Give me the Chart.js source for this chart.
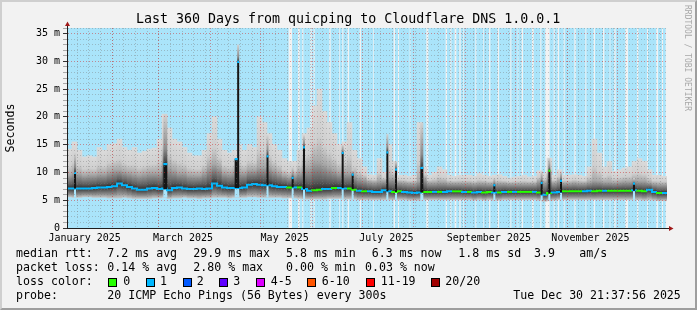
<!DOCTYPE html>
<html>
<head>
<meta charset="utf-8">
<title>Last 360 Days from quicping to Cloudflare DNS 1.0.0.1</title>
<script src="https://cdn.jsdelivr.net/npm/chart.js@4.4.1/dist/chart.umd.min.js"></script>
<style>
html,body{margin:0;padding:0;background:#f2f2f2;}
#wrap{position:relative;width:697px;height:310px;overflow:hidden;background:#f2f2f2;}
#c{position:absolute;left:0;top:0;}
#frame{position:absolute;left:0;top:0;width:697px;height:310px;box-sizing:border-box;border-top:2px solid #cfcfcf;border-left:2px solid #cfcfcf;border-right:2px solid #9e9e9e;border-bottom:2px solid #9e9e9e;pointer-events:none;}
.t{position:absolute;font-family:'DejaVu Sans Mono',monospace;font-size:11.6px;line-height:14px;white-space:pre;color:#000;}
.box{position:absolute;width:9px;height:9px;border:1px solid #000;box-sizing:border-box;}
.rrd{position:absolute;left:683px;top:5px;width:9px;writing-mode:vertical-rl;font-family:'DejaVu Sans Mono',monospace;font-size:8px;line-height:9px;color:#a8a8a8;white-space:pre;}
#title{position:absolute;left:136px;top:11.4px;font-family:'DejaVu Sans Mono',monospace;font-size:13.3px;line-height:16px;white-space:pre;color:#000;}
</style>
</head>
<body>
<div id="wrap">
  <canvas id="c" width="697" height="310"></canvas>
  <div id="title">Last 360 Days from quicping to Cloudflare DNS 1.0.0.1</div>
  <div id="legend"></div>
  <div class="rrd">RRDTOOL / TOBI OETIKER</div>
  <div id="frame"></div>
</div>
<script>
// ---------------- data (days counted from 2025-01-01 00:00) ----------------
const startDay = 3.9, endDay = 363.9, binDays = 3;

const medianMs = [
7.1,7.1,7.1,7.1,7.1,7.2,7.3,7.3,7.4,7.5,
8.0,7.7,7.4,7.1,6.9,6.9,7.1,7.2,7.0,7.1,
6.8,7.2,7.3,7.1,7.0,7.0,7.1,7.0,7.1,8.0,
7.6,7.3,7.2,7.2,7.2,7.3,7.8,7.9,7.8,7.7,
7.7,7.5,7.4,7.4,7.3,7.3,7.3,7.0,6.7,6.8,
6.9,7.0,7.0,7.2,7.2,7.1,7.1,6.9,6.7,6.6,
6.6,6.5,6.5,6.8,6.6,6.5,6.6,6.5,6.4,6.3,
6.4,6.5,6.5,6.5,6.5,6.5,6.6,6.6,6.6,6.5,
6.5,6.4,6.5,6.4,6.5,6.4,6.4,6.5,6.5,6.5,
6.5,6.5,6.5,6.5,6.4,6.0,6.3,6.4,6.5,6.6,
6.6,6.6,6.6,6.6,6.7,6.6,6.7,6.7,6.7,6.7,
6.7,6.7,6.7,6.8,6.7,6.6,6.9,6.5,6.3,6.3];

const lossIdx = [
1,1,1,1,1,1,1,1,1,1, 1,1,1,1,1,1,1,1,1,1,
1,1,1,1,1,1,1,1,1,1, 1,1,1,1,1,1,1,1,1,1,
1,1,1,1,0,1,0,1,1,0, 0,1,1,0,1,1,0,0,1,0,
1,1,1,1,1,0,0,1,1,1, 1,0,0,1,0,1,1,0,0,1,
0,1,1,0,0,1,0,1,0,1, 0,0,0,1,0,1,0,1,1,0,
0,0,0,1,1,0,0,1,0,0, 0,0,0,1,0,0,1,1,0,1];

const smokeLow = [
5.6,5.5,5.5,5.6,5.6,5.5,5.5,5.5,5.4,5.4,
5.4,5.5,5.4,5.3,5.3,5.3,5.3,5.4,5.4,5.5,
5.3,5.4,5.4,5.5,5.4,5.4,5.3,5.4,5.4,5.5,
5.5,5.5,5.4,5.5,5.5,5.5,5.6,5.6,5.5,5.5,
5.5,5.5,5.5,5.4,5.4,5.4,5.3,5.2,5.2,5.2,
5.2,5.2,5.3,5.3,5.3,5.2,5.2,5.2,5.1,5.1,
5.1,5.1,5.1,5.1,5.1,5.1,5.1,5.1,5.0,5.0,
5.0,5.1,5.1,5.1,5.1,5.1,5.1,5.1,5.1,5.1,
5.1,5.0,5.1,5.0,5.1,5.0,5.0,5.1,5.1,5.1,
5.1,5.1,5.1,5.1,5.0,4.8,4.9,5.0,5.1,5.1,
5.1,5.1,5.1,5.1,5.1,5.1,5.1,5.1,5.1,5.1,
5.1,5.1,5.1,5.1,5.1,5.0,5.1,5.0,4.9,4.9];

const smokeMid = [
9.5,10,9.8,9.5,9.6,9.6,9.8,9.8,10.2,10.5,
10.5,10.2,10,9.8,9.6,9.8,10,10,10,12,
11,10.5,10,10,9.6,9.5,9.5,10,11,11.5,
11,10,9.8,10,10,10,10.5,10.5,11,11,
11,10.5,10,9.5,9.2,9.5,10,11,11,12,
12,11.5,11,10.5,10,10,10,9.5,9,8.8,
8.4,8.3,8.5,8.5,9,9,8.3,8.2,8.1,8.1,
8.5,9,8.2,8.2,8.3,8.3,8.1,8.1,8.1,8.1,
8.1,8.0,8.1,8.1,8.0,8.0,8.1,8.1,8.0,8.0,
8.0,8.0,8.0,8.0,8.5,8.3,9.5,8.2,8.6,8.1,
8.1,8.2,8.1,8.1,8.3,8.6,8.5,8.3,8.3,8.2,
8.3,8.4,8.4,8.6,8.5,8.5,8.2,8.0,7.9,7.9];

const smokeHigh = [
14.2,15.5,14.0,12.8,13.0,12.8,14.5,14.0,15.0,15.2,
16,14.5,14,14.5,13.5,13.8,14.2,14.4,16,20.5,
18,16,15.5,14.5,13.5,13,13,14,17,20,
16,14,13.5,14,15,14,15,14.5,20,19,
17,15,14,12.5,12,12,14,17,18,22,
25,21,19,17,15,15.5,19,14,12.5,11,
9.6,9.5,12.5,10,15,12,9.5,9.5,9.3,9.5,
19,11,9.5,10,11,10.5,9.5,9.3,9.5,9.5,
9.5,9.3,9.8,9.5,9.3,9.5,9.6,9.3,9.0,9.2,
9.3,9.5,9.2,9.3,10.3,9.8,12.6,9.5,10.5,9.5,
9.5,9.6,9.5,9.3,11,16,13.5,11,12,10.2,
10.5,10.8,11,12,12.5,12,10.5,9.5,9.5,9.3];

// isolated latency spikes
const spikeDay   = [8.7, 62.9, 105.4, 106.6, 124.2, 139.3, 146.1, 169.3, 175.3, 196.1, 201.3, 216.8, 260.3, 288.7, 293.3, 300.3, 344.1];
const spikeBase  = [7.1, 7.0, 7.2, 7.2, 7.7, 7.3, 7.0, 7.2, 7.0, 6.6, 6.5, 6.4, 6.5, 6.0, 6.2, 6.4, 6.7];
const spikeTop   = [9.9, 11.5, 12.4, 29.9, 12.9, 9.0, 14.5, 13.5, 9.6, 13.6, 10.5, 10.8, 7.7, 8.1, 10.3, 8.5, 8.0];
const spikeHaze  = [13.5, 20.5, 12.4, 33.0, 16.7, 11.0, 16.7, 15.0, 10.5, 16.9, 12.0, 19.0, 9.0, 10.2, 12.6, 10.2, 9.0];
const spikeLoss  = [1,1,1,1,1,1,1,1,1,1,1,1,1,1,0,1,1];
const spikeWidth = [2,4,3,2,2,2,2,2,2,2,2,3,2,2,2,2,2];

// periods without the blue background
const whiteGaps = [[136.7,139.1],[142.3,143.7],[144.9,145.9],[149.7,150.9],[151.7,152.7],[161.1,162.3],[166.9,167.7],[168.9,169.9],[172.1,173.3],[179.3,180.5],[187.3,188.1],[199.7,200.9],[202.3,203.3],[209.3,210.1],[219.3,220.9],[230.9,232.1],[233.7,234.7],[236.3,237.7],[239.1,240.3],[241.3,242.1],[248.7,249.7],[253.3,254.1],[256.9,258.1],[262.1,263.3],[269.7,270.7],[274.1,274.9],[276.5,277.7],[282.7,284.1],[287.7,288.7],[290.7,293.7],[295.7,296.7],[298.1,299.3],[301.7,302.7],[308.1,309.3],[314.7,315.7],[319.7,320.9],[325.3,326.5],[329.3,330.1],[332.1,333.3],[338.7,340.7],[345.7,346.9],[351.7,352.7],[357.3,358.7],[360.7,361.7],[362.9,363.9]];

const monthStartDays = [31,59,90,120,151,181,212,243,273,304,334];
const weekStartDay = 3;  // Saturday 2025-01-04
const monthLabelDays = [14.5,73.5,134.5,195.5,257,318];
const monthLabels = ['January 2025','March 2025','May 2025','July 2025','September 2025','November 2025'];
const yTickValues = [0,1,2,3,4,5,6,7,8,9,10,11,12,13,14,15,16,17,18,19,20,21,22,23,24,25,26,27,28,29,30,31,32,33,34,35,36];
const yTickLabels = ['0','5 m','10 m','15 m','20 m','25 m','30 m','35 m'];
const lossColors = ['#26ff00','#00b8ff','#0059ff','#5e00ff','#dd00ff','#ff5500','#ff0000','#a10000'];
const lossLabels = ['0','1','2','3','4-5','6-10','11-19','20/20'];

// ---------------- build ----------------
const FONT = "'DejaVu Sans Mono', 'Liberation Mono', monospace";
const BG_BLUE = 'rgb(170,228,250)';
const GRID_MINOR = 'rgba(120,120,120,0.4)';
const GRID_MAJOR = 'rgba(205,45,45,0.5)';

const weekDays = [];
for (let d = weekStartDay; d <= endDay; d += 7) if (d >= startDay) weekDays.push(d);

const blueSpans = [];
let cur = startDay;
whiteGaps.forEach(([s, e]) => { if (s > cur) blueSpans.push([cur, s]); cur = Math.max(cur, e); });
if (cur < endDay) blueSpans.push([cur, endDay]);

const binStart = medianMs.map((_, i) => startDay + binDays * i);
const binOf = d => Math.min(medianMs.length - 1, Math.max(0, Math.floor((d - startDay) / binDays)));

function vgrad(chart, vLow, vHigh, stops) {
  const y = chart.scales.y;
  if (!y) return stops[stops.length - 1][1];
  const yb = y.getPixelForValue(vLow), yt = y.getPixelForValue(vHigh);
  if (!isFinite(yb) || !isFinite(yt) || Math.abs(yb - yt) < 0.05) return stops[0][1];
  const g = chart.ctx.createLinearGradient(0, yb, 0, yt);
  stops.forEach(([v, c]) => {
    let f = (yb - y.getPixelForValue(v)) / (yb - yt);
    f = Math.min(1, Math.max(0, f));
    g.addColorStop(f, c);
  });
  return g;
}

const datasets = [];

// background blue (horizontal floating bars spanning the plot height)
datasets.push({
  type: 'bar', indexAxis: 'y', order: 20, grouped: false, barThickness: 200,
  data: blueSpans.map(([s, e]) => ({ x: [s, e], y: 18 })),
  backgroundColor: BG_BLUE, borderWidth: 0
});

// smoke below median
datasets.push({
  type: 'bar', order: 19, grouped: false, barThickness: 5, inflateAmount: 0.3,
  data: medianMs.map((m, i) => ({ x: binStart[i] + binDays / 2, y: [smokeLow[i], m] })),
  backgroundColor: c => {
    if (c.type !== 'data') return '#888';
    const i = c.dataIndex, m = medianMs[i], lo = smokeLow[i];
    return vgrad(c.chart, lo, m, [[lo, '#c4c4c4'], [lo + 0.35 * (m - lo), '#8a8a8a'], [m, '#363636']]);
  }
});
// smoke above median
datasets.push({
  type: 'bar', order: 18, grouped: false, barThickness: 5, inflateAmount: 0.3,
  data: medianMs.map((m, i) => ({ x: binStart[i] + binDays / 2, y: [m, smokeHigh[i]] })),
  backgroundColor: c => {
    if (c.type !== 'data') return '#aaa';
    const i = c.dataIndex, m = medianMs[i], mid = smokeMid[i], hi = smokeHigh[i];
    return vgrad(c.chart, m, hi, [[m, '#2c2c2c'], [m + 0.3 * (mid - m), '#5c5c5c'], [mid, '#a8a8a8'], [mid + 0.35 * (hi - mid), '#cfcfcf'], [hi, '#dadada']]);
  }
});

// median line (one flat step per bin, coloured by loss)
const medianPts = [];
medianMs.forEach((m, i) => { medianPts.push({ x: binStart[i], y: m }, { x: binStart[i] + binDays, y: m }); });
datasets.push({
  type: 'line', order: 16, data: medianPts, borderWidth: 2, pointRadius: 0, tension: 0,
  borderColor: lossColors[lossIdx[0]], borderCapStyle: 'butt', borderJoinStyle: 'miter',
  segment: { borderColor: c => lossColors[lossIdx[Math.floor(c.p1DataIndex / 2)]] }
});

// spikes grouped by their drawn width
[...new Set(spikeWidth)].forEach(w => {
  const ks = spikeDay.map((_, k) => k).filter(k => spikeWidth[k] === w);
  datasets.push({
    type: 'bar', order: 17, grouped: false, barThickness: w, inflateAmount: 0,
    data: ks.map(k => ({ x: spikeDay[k], y: [smokeLow[binOf(spikeDay[k])], spikeBase[k]] })),
    backgroundColor: BG_BLUE
  });
  datasets.push({
    type: 'bar', order: 15, grouped: false, barThickness: w, inflateAmount: 0,
    data: ks.map(k => ({ x: spikeDay[k], y: [spikeTop[k], spikeHaze[k]], k })),
    backgroundColor: c => {
      if (c.type !== 'data') return '#999';
      const k = c.raw.k, t = spikeTop[k], h = spikeHaze[k];
      return vgrad(c.chart, t, h, [[t, '#3a3a3a'], [t + 0.3 * (h - t), '#8c8c8c'], [h, '#d2d2d2']]);
    }
  });
  datasets.push({
    type: 'bar', order: 14, grouped: false, barThickness: w, inflateAmount: 0,
    data: ks.map(k => ({ x: spikeDay[k], y: [spikeBase[k], spikeTop[k]] })),
    backgroundColor: '#151515'
  });
  datasets.push({
    type: 'bar', order: 13, grouped: false, barThickness: w, inflateAmount: 0,
    data: ks.map(k => ({ x: spikeDay[k], y: [spikeTop[k] - 0.2, spikeTop[k] + 0.2] })),
    backgroundColor: ks.map(k => lossColors[spikeLoss[k]])
  });
});

const axisArrows = {
  id: 'axisArrows',
  afterDraw(chart) {
    const { ctx, chartArea: a } = chart;
    const x0 = Math.round(a.left) + 0.5, y0 = Math.round(a.bottom) + 0.5;
    ctx.save();
    ctx.strokeStyle = '#1e1e1e'; ctx.lineWidth = 1;
    ctx.beginPath();
    ctx.moveTo(x0, y0); ctx.lineTo(x0, a.top - 3);
    ctx.moveTo(x0, y0); ctx.lineTo(a.right + 3, y0);
    ctx.stroke();
    ctx.fillStyle = '#a01818';
    ctx.beginPath();
    ctx.moveTo(x0, a.top - 6.5); ctx.lineTo(x0 - 2.5, a.top - 2); ctx.lineTo(x0 + 2.5, a.top - 2); ctx.closePath(); ctx.fill();
    ctx.beginPath();
    ctx.moveTo(a.right + 6.5, y0); ctx.lineTo(a.right + 2, y0 - 2.5); ctx.lineTo(a.right + 2, y0 + 2.5); ctx.closePath(); ctx.fill();
    ctx.restore();
  }
};

const gridOnlyX = (days, color) => ({
  type: 'linear', min: startDay, max: endDay, offset: false, position: 'bottom', display: true,
  grid: { color, lineWidth: 1, drawTicks: false, z: 1, offset: false },
  border: { display: false, dash: [1, 2] },
  ticks: { display: false },
  afterBuildTicks: s => { s.ticks = days.map(v => ({ value: v })); },
  afterFit: s => { s.height = 0; }
});

new Chart(document.getElementById('c'), {
  type: 'bar',
  data: { datasets },
  options: {
    responsive: false, animation: false, devicePixelRatio: 1, events: [],
    layout: { padding: { left: 0, right: 30, top: 28, bottom: 62 } },
    plugins: { legend: { display: false }, tooltip: { enabled: false }, title: { display: false } },
    scales: {
      x: {
        type: 'linear', min: startDay, max: endDay, offset: false, position: 'bottom',
        grid: { display: false, drawTicks: false, offset: false },
        border: { display: true, color: '#1e1e1e', width: 1 },
        ticks: { autoSkip: false, maxRotation: 0, minRotation: 0, padding: 4, color: '#000',
                 font: { family: FONT, size: 10 }, callback: (v, i) => monthLabels[i] },
        afterBuildTicks: s => { s.ticks = monthLabelDays.map(v => ({ value: v })); },
        afterFit: s => { s.height = 20; }
      },
      xWeek: gridOnlyX(weekDays, GRID_MINOR),
      xMonth: gridOnlyX(monthStartDays, GRID_MAJOR),
      y: {
        type: 'linear', min: 0, max: 36, offset: false, position: 'left',
        grid: {
          z: 1, offset: false, drawTicks: true, tickLength: 4, lineWidth: 1,
          color: c => (c.tick.value === 0 ? 'rgba(0,0,0,0)' : (c.tick.value % 5 === 0 ? GRID_MAJOR : GRID_MINOR)),
          tickColor: c => (c.tick.value % 5 === 0 ? '#333' : 'rgba(120,120,120,0.6)')
        },
        border: { display: true, color: '#1e1e1e', width: 1, dash: [1, 2] },
        ticks: { autoSkip: false, padding: 3, color: '#000', font: { family: FONT, size: 10 },
                 callback: v => (v % 5 === 0 ? yTickLabels[v / 5] : '') },
        title: { display: true, text: 'Seconds', color: '#000', font: { family: FONT, size: 11.6 }, padding: { top: 4, bottom: 0 } },
        afterBuildTicks: s => { s.ticks = yTickValues.map(v => ({ value: v })); },
        afterFit: s => { s.width = 67; }
      }
    }
  },
  plugins: [axisArrows]
});

// ---------------- text legend below the plot ----------------
const legendRows = [
  { top: 246, items: [[16, 'median rtt:'], [107.3, '7.2 ms avg'], [193.3, '29.9 ms max'], [286, '5.8 ms min'], [371.7, '6.3 ms now'], [458.3, '1.8 ms sd'], [534, '3.9'], [579.3, 'am/s']] },
  { top: 260, items: [[16, 'packet loss:'], [107.3, '0.14 % avg'], [193.3, '2.80 % max'], [286, '0.00 % min'], [365, '0.03 % now']] },
  { top: 274, items: [[16, 'loss color:']] },
  { top: 288, items: [[16, 'probe:'], [107.3, '20 ICMP Echo Pings (56 Bytes) every 300s'], [513.3, 'Tue Dec 30 21:37:56 2025']] }
];
const lossBoxX = [108.3, 145.7, 182.7, 219.3, 256, 307.3, 366, 430.7];
const lossTextX = [123.3, 160, 196.7, 233.3, 270.7, 321.7, 380.7, 445.3];
const lg = document.getElementById('legend');
legendRows.forEach(r => r.items.forEach(([x, txt]) => {
  const s = document.createElement('div'); s.className = 't'; s.style.left = x + 'px'; s.style.top = r.top + 'px'; s.textContent = txt; lg.appendChild(s);
}));
lossLabels.forEach((lab, i) => {
  const b = document.createElement('div'); b.className = 'box'; b.style.left = lossBoxX[i] + 'px'; b.style.top = '278px'; b.style.background = lossColors[i]; lg.appendChild(b);
  const s = document.createElement('div'); s.className = 't'; s.style.left = lossTextX[i] + 'px'; s.style.top = '274px'; s.textContent = lab; lg.appendChild(s);
});
</script>
</body>
</html>
